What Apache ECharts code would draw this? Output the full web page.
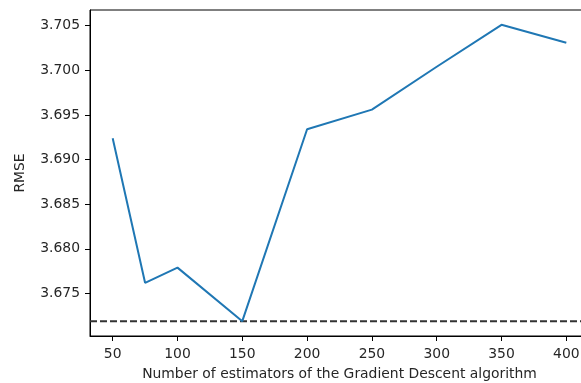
<!DOCTYPE html>
<html>
<head>
<meta charset="utf-8">
<script src="https://cdn.jsdelivr.net/npm/echarts@6/dist/echarts.min.js"></script>
<style>
  html, body { margin: 0; padding: 0; background: #fff; }
  #chart { width: 581px; height: 383px; }
</style>
</head>
<body>
<div id="chart"></div>
<script>
// Number of estimators tried and the RMSE obtained for each
const estimators = [50, 75, 100, 150, 200, 250, 300, 350, 400];
const rmse = [3.6924, 3.6762, 3.6779, 3.6719, 3.6934, 3.6956, 3.7004, 3.7051, 3.7031];

// Tick positions shown on each axis
const xTicks = [50, 100, 150, 200, 250, 300, 350, 400];
const yTicks = [3.675, 3.680, 3.685, 3.690, 3.695, 3.700, 3.705];

const xLabel = 'Number of estimators of the Gradient Descent algorithm';
const yLabel = 'RMSE';

// Axis extents padded by 5% of the data range on each side
function padded(arr) {
  const lo = Math.min(...arr), hi = Math.max(...arr);
  const m = (hi - lo) * 0.05;
  return [lo - m, hi + m];
}
const [xMin, xMax] = padded(estimators);
const [yMin, yMax] = padded(rmse);
const bestRmse = Math.min(...rmse);

const font = 'DejaVu Sans';
const textColor = '#262626';

const chart = echarts.init(document.getElementById('chart'), null, { renderer: 'canvas' });
chart.setOption({
  animation: false,
  backgroundColor: '#fff',
  grid: {
    // plot area runs slightly past the right edge of the canvas
    left: 90, top: 10, width: 499, height: 326,
    outerBoundsMode: 'none',
    containLabel: false,
    show: true, borderColor: '#000', borderWidth: 1, backgroundColor: 'transparent'
  },
  xAxis: {
    type: 'value',
    min: xMin, max: xMax,
    name: xLabel,
    nameLocation: 'middle',
    nameGap: 31,
    nameTextStyle: { fontFamily: font, fontSize: 13.9, color: textColor },
    axisLine: { show: true, lineStyle: { color: '#000', width: 1 } },
    axisTick: { show: true, inside: false, length: 5, customValues: xTicks, lineStyle: { color: '#000', width: 1 } },
    axisLabel: { show: true, margin: 11, customValues: xTicks, fontFamily: font, fontSize: 13.9, color: textColor },
    splitLine: { show: false }
  },
  yAxis: {
    type: 'value',
    min: yMin, max: yMax,
    name: yLabel,
    nameLocation: 'middle',
    nameRotate: 90,
    nameGap: 63,
    nameTextStyle: { fontFamily: font, fontSize: 13.9, color: textColor },
    axisLine: { show: true, lineStyle: { color: '#000', width: 1 } },
    axisTick: { show: true, inside: false, length: 5, customValues: yTicks, lineStyle: { color: '#000', width: 1 } },
    axisLabel: {
      show: true, margin: 10, customValues: yTicks,
      fontFamily: font, fontSize: 13.9, color: textColor,
      formatter: v => v.toFixed(3)
    },
    splitLine: { show: false }
  },
  series: [
    {
      // horizontal reference at the lowest RMSE, spanning the whole axis
      type: 'line',
      data: [[xMin, bestRmse], [xMax, bestRmse]],
      symbol: 'none',
      lineStyle: { color: '#333', type: [7, 3], width: 2 },
      z: 2,
      silent: true
    },
    {
      type: 'line',
      data: estimators.map((e, i) => [e, rmse[i]]),
      symbol: 'none',
      lineStyle: { color: '#1f77b4', width: 2 },
      z: 3
    }
  ]
});
</script>
</body>
</html>
